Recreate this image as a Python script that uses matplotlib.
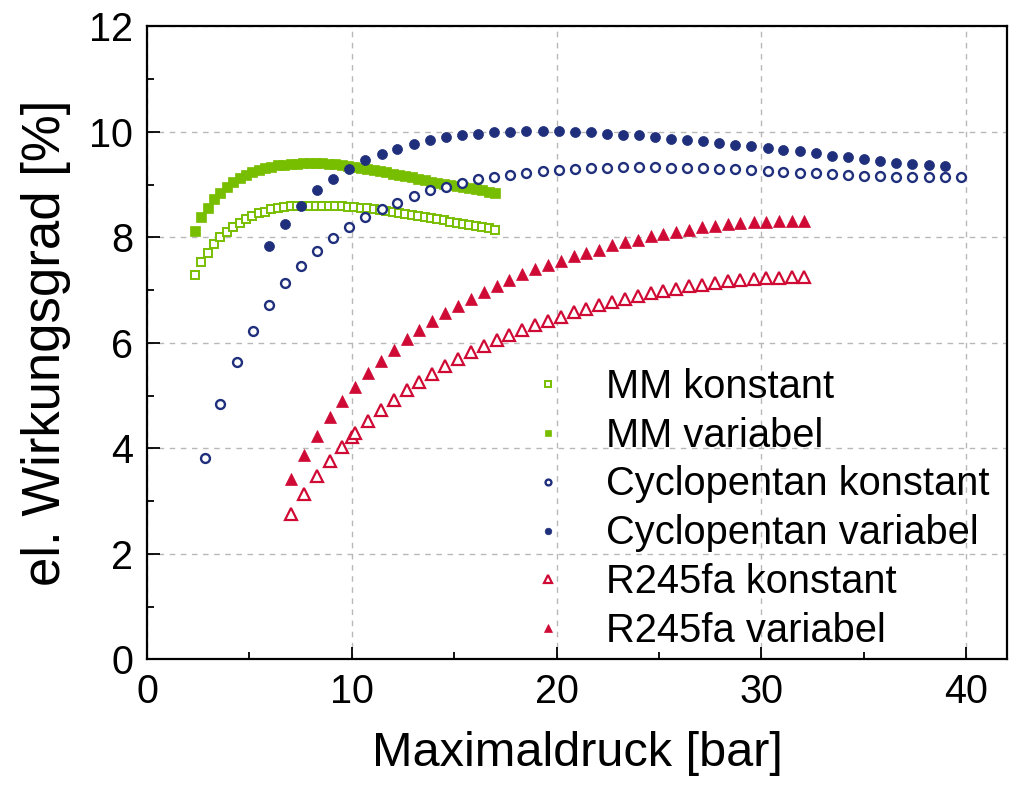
import numpy as np
import matplotlib.pyplot as plt
from matplotlib.ticker import MultipleLocator

plt.rcParams['font.family'] = ['Liberation Sans', 'DejaVu Sans']

# === Data ===
# MM: open squares = konstant, filled squares = variabel
mm_p = [2.34, 2.65, 2.96, 3.27, 3.59, 3.90, 4.21, 4.52, 4.83, 5.14,
        5.46, 5.77, 6.08, 6.39, 6.70, 7.01, 7.33, 7.64, 7.95, 8.26,
        8.57, 8.88, 9.20, 9.51, 9.82, 10.13, 10.44, 10.75, 11.07, 11.38,
        11.69, 12.00, 12.31, 12.62, 12.94, 13.25, 13.56, 13.87, 14.18, 14.49,
        14.81, 15.12, 15.43, 15.74, 16.05, 16.36, 16.68, 16.99]
mm_konst = [7.29, 7.53, 7.71, 7.88, 8.01, 8.11, 8.20, 8.28, 8.35, 8.41,
            8.46, 8.49, 8.53, 8.56, 8.58, 8.59, 8.59, 8.60, 8.60, 8.60,
            8.60, 8.60, 8.59, 8.59, 8.58, 8.58, 8.56, 8.55, 8.54, 8.52,
            8.51, 8.49, 8.47, 8.45, 8.43, 8.41, 8.39, 8.37, 8.35, 8.33,
            8.30, 8.28, 8.26, 8.24, 8.22, 8.20, 8.18, 8.15]
mm_var = [8.13, 8.38, 8.56, 8.72, 8.85, 8.96, 9.05, 9.13, 9.19, 9.24,
          9.28, 9.31, 9.34, 9.37, 9.38, 9.40, 9.40, 9.41, 9.41, 9.41,
          9.41, 9.40, 9.39, 9.37, 9.35, 9.34, 9.32, 9.30, 9.28, 9.26,
          9.24, 9.21, 9.19, 9.16, 9.14, 9.11, 9.09, 9.06, 9.04, 9.01,
          8.99, 8.97, 8.95, 8.93, 8.91, 8.89, 8.87, 8.85]

# Cyclopentan
cp_p_konst = [2.81, 3.59, 4.38, 5.16, 5.94, 6.74, 7.52, 8.31, 9.09, 9.87,
              10.67, 11.46, 12.23, 13.02, 13.80, 14.60, 15.38, 16.16, 16.95, 17.74,
              18.53, 19.32, 20.10, 20.91, 21.69, 22.45, 23.25, 24.04, 24.82, 25.60,
              26.38, 27.17, 27.93, 28.72, 29.52, 30.31, 31.08, 31.87, 32.65, 33.45,
              34.21, 35.01, 35.79, 36.58, 37.38, 38.17, 38.96, 39.73]
cp_konst = [3.81, 4.85, 5.63, 6.23, 6.72, 7.13, 7.46, 7.75, 7.99, 8.20,
            8.38, 8.53, 8.66, 8.78, 8.89, 8.96, 9.04, 9.10, 9.15, 9.19,
            9.23, 9.26, 9.28, 9.30, 9.31, 9.32, 9.33, 9.33, 9.33, 9.32,
            9.32, 9.31, 9.30, 9.29, 9.28, 9.26, 9.25, 9.23, 9.22, 9.20,
            9.18, 9.17, 9.16, 9.15, 9.15, 9.14, 9.14, 9.14]
cp_p_var = [5.94, 6.74, 7.52, 8.31, 9.09, 9.87, 10.67, 11.46, 12.23, 13.02,
            13.80, 14.60, 15.38, 16.16, 16.95, 17.74, 18.53, 19.32, 20.10, 20.91,
            21.69, 22.45, 23.25, 24.04, 24.82, 25.60, 26.38, 27.17, 27.93, 28.72,
            29.52, 30.31, 31.08, 31.87, 32.65, 33.45, 34.21, 35.01, 35.79, 36.58,
            37.38, 38.17, 38.96]
cp_var = [7.84, 8.25, 8.60, 8.89, 9.11, 9.30, 9.46, 9.59, 9.68, 9.78,
          9.84, 9.90, 9.94, 9.97, 9.99, 10.00, 10.01, 10.01, 10.01, 10.00,
          9.99, 9.97, 9.95, 9.94, 9.91, 9.87, 9.85, 9.82, 9.79, 9.76,
          9.73, 9.69, 9.66, 9.63, 9.60, 9.55, 9.52, 9.49, 9.45, 9.42,
          9.40, 9.38, 9.35]

# R245fa
r_p_konst = [7.05, 7.67, 8.28, 8.93, 9.53, 10.02, 10.18, 10.80, 11.43, 12.06,
             12.68, 13.30, 13.93, 14.57, 15.20, 15.83, 16.45, 17.08, 17.70, 18.33,
             18.95, 19.58, 20.21, 20.83, 21.46, 22.08, 22.70, 23.33, 23.96, 24.60,
             25.22, 25.85, 26.46, 27.09, 27.72, 28.35, 28.98, 29.62, 30.23, 30.87,
             31.48, 32.10]
r_konst = [2.76, 3.13, 3.47, 3.76, 4.03, 4.21, 4.29, 4.51, 4.72, 4.91,
           5.10, 5.26, 5.41, 5.56, 5.69, 5.82, 5.94, 6.05, 6.15, 6.25,
           6.33, 6.42, 6.49, 6.58, 6.65, 6.71, 6.77, 6.83, 6.88, 6.95,
           6.99, 7.03, 7.07, 7.10, 7.14, 7.17, 7.19, 7.22, 7.23, 7.24,
           7.25, 7.25]
r_p_var = [7.05, 7.67, 8.28, 8.93, 9.53, 10.18, 10.80, 11.43, 12.06, 12.68,
           13.30, 13.93, 14.57, 15.20, 15.83, 16.45, 17.08, 17.70, 18.33, 18.95,
           19.58, 20.21, 20.83, 21.46, 22.08, 22.70, 23.33, 23.96, 24.60, 25.22,
           25.85, 26.46, 27.09, 27.72, 28.35, 28.98, 29.62, 30.23, 30.87, 31.48,
           32.10]
r_var = [3.42, 3.87, 4.24, 4.59, 4.90, 5.17, 5.43, 5.66, 5.87, 6.07,
         6.25, 6.41, 6.57, 6.70, 6.84, 6.97, 7.08, 7.19, 7.30, 7.40,
         7.48, 7.56, 7.65, 7.71, 7.77, 7.85, 7.91, 7.95, 8.02, 8.06,
         8.10, 8.15, 8.19, 8.22, 8.25, 8.27, 8.29, 8.30, 8.32, 8.32,
         8.32]

green = '#78be00'
blue = '#1f2f7c'
red = '#cf0a35'

# === Plot ===
fig = plt.figure(figsize=(10.13, 7.93), dpi=100)
ax = fig.add_axes([0.1451, 0.1686, 0.849, 0.798])

ax.plot(mm_p, mm_konst, 's', ms=6.0, mfc='white', mec=green, mew=1.4, ls='none', label='MM konstant')
ax.plot(mm_p, mm_var, 's', ms=6.8, mfc=green, mec=green, mew=0.5, ls='none', label='MM variabel')
ax.plot(cp_p_konst, cp_konst, 'o', ms=6.4, mfc='white', mec=blue, mew=1.7, ls='none', label='Cyclopentan konstant')
ax.plot(cp_p_var, cp_var, 'o', ms=7.2, mfc=blue, mec=blue, mew=0.5, ls='none', label='Cyclopentan variabel')
ax.plot(r_p_konst, r_konst, '^', ms=8.2, mfc='white', mec=red, mew=1.6, ls='none', label='R245fa konstant')
ax.plot(r_p_var, r_var, '^', ms=8.8, mfc=red, mec=red, mew=0.5, ls='none', label='R245fa variabel')

ax.set_xlim(0, 42)
ax.set_ylim(0, 12)
ax.xaxis.set_major_locator(MultipleLocator(10))
ax.xaxis.set_minor_locator(MultipleLocator(5))
ax.yaxis.set_major_locator(MultipleLocator(2))
ax.yaxis.set_minor_locator(MultipleLocator(1))
ax.grid(True, which='major', color='#b8b8b8', ls=(0, (4, 4)), lw=1.0)
ax.set_axisbelow(True)

ax.tick_params(which='both', direction='in', top=False, right=False, width=1.3, labelsize=28.5)
ax.tick_params(which='major', length=9, pad=10)
ax.tick_params(which='minor', length=5)
for s in ax.spines.values():
    s.set_linewidth(1.6)

ax.set_xlabel('Maximaldruck [bar]', fontsize=35, labelpad=14)
ax.set_ylabel('el. Wirkungsgrad [%]', fontsize=38, labelpad=13)

ax.legend(loc='upper left', bbox_to_anchor=(0.443, 0.461), frameon=False, fontsize=28.7,
          handlelength=1.0, handletextpad=0.95, labelspacing=0.275, borderpad=0,
          borderaxespad=0, markerscale=0.66)

plt.savefig('out.png', dpi=100)
